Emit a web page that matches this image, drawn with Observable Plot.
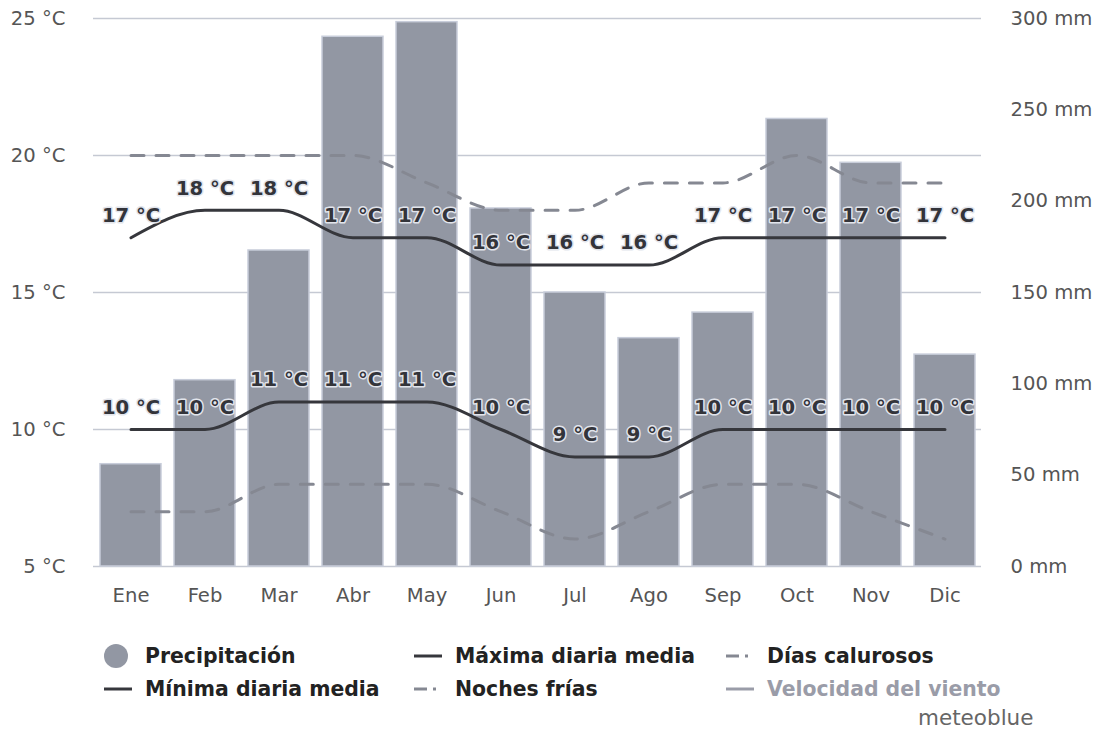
<!DOCTYPE html>
<html>
<head>
<meta charset="utf-8">
<script src="https://cdn.jsdelivr.net/npm/d3@7"></script>
<script src="https://cdn.jsdelivr.net/npm/@observablehq/plot@0.6"></script>
<style>
  html, body { margin: 0; padding: 0; background: #fff; }
  #wrap { position: relative; width: 1100px; height: 729px; font-family: "DejaVu Sans", sans-serif; }
  .leg { position: absolute; font-size: 20.4px; font-weight: bold; color: #222; line-height: 26px; white-space: nowrap; }
  .sym { position: absolute; }
</style>
</head>
<body>
<div id="wrap"></div>
<script>
const months = ["Ene","Feb","Mar","Abr","May","Jun","Jul","Ago","Sep","Oct","Nov","Dic"];
const precipitation = [56, 102, 173, 290, 298, 196, 150, 125, 139, 245, 221, 116];
const maxTemp = [17, 18, 18, 17, 17, 16, 16, 16, 17, 17, 17, 17];
const minTemp = [10, 10, 11, 11, 11, 10, 9, 9, 10, 10, 10, 10];
const hotDays = [20, 20, 20, 20, 19, 18, 18, 19, 19, 20, 19, 19];
const coldNights = [7, 7, 8, 8, 8, 7, 6, 7, 8, 8, 7, 6];
const tempTicks = [5, 10, 15, 20, 25];
const precipTicks = [0, 50, 100, 150, 200, 250, 300];

// precipitation (0–300 mm) shares the temperature frame (5–25 °C)
const toT = p => 5 + p * 20 / 300;

const rows = months.map((m, i) => ({
  month: m, p: precipitation[i], max: maxTemp[i], min: minTemp[i], hot: hotDays[i], cold: coldNights[i]
}));

const labelStyle = {
  fontWeight: "bold", fontSize: 19.6, fill: "#33343a",
  stroke: "#e2e5ec", strokeWidth: 3, paintOrder: "stroke", dy: -22
};

const chart = Plot.plot({
  width: 1100,
  height: 620,
  marginLeft: 93,
  marginRight: 119,
  marginTop: 18,
  marginBottom: 54,
  style: { fontFamily: "DejaVu Sans, sans-serif", fontSize: "19.6px", color: "#555", background: "#fff" },
  x: { type: "band", domain: months, paddingInner: 0.176, paddingOuter: 0.088, label: null },
  y: { domain: [5, 25], label: null },
  marks: [
    Plot.ruleY(tempTicks, { stroke: "#c5c9d3", strokeWidth: 1.5 }),
    Plot.barY(rows, { x: "month", y1: 5, y2: d => toT(d.p), fill: "#9297a3", stroke: "#c8cdda", strokeWidth: 1.5, inset: 0 }),
    Plot.axisX({ tickSize: 0, tickPadding: 22, fontSize: 19.6, fill: "#555" }),
    Plot.axisY(tempTicks, { anchor: "left", tickSize: 0, tickPadding: 28, tickFormat: d => `${d} °C`, fontSize: 19.6, fill: "#555", label: null }),
    Plot.axisY(precipTicks.map(toT), { anchor: "right", tickSize: 0, tickPadding: 29, tickFormat: d => `${Math.round((d - 5) * 15)} mm`, fontSize: 19.6, fill: "#555", label: null }),
    Plot.line(rows, { x: "month", y: "hot", stroke: "#858892", strokeWidth: 3, strokeDasharray: "13,12", curve: "monotone-x" }),
    Plot.line(rows, { x: "month", y: "cold", stroke: "#858892", strokeWidth: 3, strokeDasharray: "13,12", curve: "monotone-x" }),
    Plot.line(rows, { x: "month", y: "max", stroke: "#36373c", strokeWidth: 3, curve: "monotone-x" }),
    Plot.line(rows, { x: "month", y: "min", stroke: "#36373c", strokeWidth: 3, curve: "monotone-x" }),
    Plot.text(rows, { x: "month", y: "max", text: d => `${d.max} °C`, ...labelStyle }),
    Plot.text(rows, { x: "month", y: "min", text: d => `${d.min} °C`, ...labelStyle })
  ]
});

const wrap = document.getElementById("wrap");
wrap.appendChild(chart);

function legendItem(x, yc, text, color, symbol) {
  const s = document.createElementNS("http://www.w3.org/2000/svg", "svg");
  s.setAttribute("class", "sym");
  s.setAttribute("width", 34);
  s.setAttribute("height", 26);
  s.style.left = (x - 4) + "px";
  s.style.top = (yc - 13) + "px";
  if (symbol === "circle") {
    s.innerHTML = `<circle cx="16" cy="13" r="12" fill="#9297a3"/>`;
  } else if (symbol === "line") {
    s.innerHTML = `<line x1="4" x2="32" y1="13" y2="13" stroke="${color}" stroke-width="3"/>`;
  } else if (symbol === "dash") {
    s.innerHTML = `<line x1="4" x2="17" y1="13" y2="13" stroke="#858892" stroke-width="3"/><line x1="23" x2="26" y1="13" y2="13" stroke="#858892" stroke-width="3"/>`;
  }
  wrap.appendChild(s);
  const t = document.createElement("div");
  t.className = "leg";
  t.textContent = text;
  t.style.left = (x + 41) + "px";
  t.style.top = (yc - 13) + "px";
  if (symbol === "line" && color === "#9a9ca8") t.style.color = "#9a9ca8";
  wrap.appendChild(t);
}

legendItem(104, 656, "Precipitación", null, "circle");
legendItem(414, 656, "Máxima diaria media", "#36373c", "line");
legendItem(726, 656, "Días calurosos", null, "dash");
legendItem(104, 689, "Mínima diaria media", "#36373c", "line");
legendItem(414, 689, "Noches frías", null, "dash");
legendItem(726, 689, "Velocidad del viento", "#9a9ca8", "line");

const mb = document.createElement("div");
mb.textContent = "meteoblue";
mb.style.cssText = "position:absolute;left:918px;top:704px;font-size:21.5px;color:#666;line-height:28px;";
wrap.appendChild(mb);
</script>
</body>
</html>
